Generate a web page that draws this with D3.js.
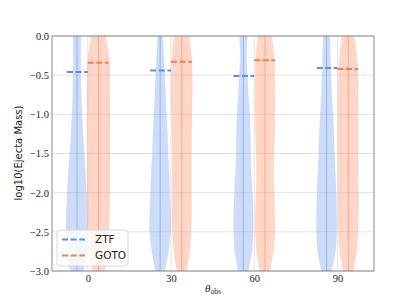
<html>
<meta charset="utf-8" />
<head>
<title>violin ejecta mass</title>
<script src="https://cdn.jsdelivr.net/npm/d3@7"></script>
<style>
	body { margin: 0; background: white; }
</style>
<script>
// viewing angles (x categories)
const angles = [0, 30, 60, 90];
// levels where the violin widths were read (log10 mass)
const levels = [0, -0.25, -0.5, -0.75, -1, -1.25, -1.5, -1.75, -2, -2.25, -2.5, -2.75, -3];
// relative violin half widths, one row per angle
const ztfDensity = [
	[0.34, 0.32, 0.33, 0.37, 0.43, 0.52, 0.63, 0.74, 0.84, 0.91, 0.96, 0.87, 0.57],
	[0.22, 0.30, 0.39, 0.46, 0.54, 0.63, 0.68, 0.77, 0.83, 0.90, 0.90, 0.72, 0.39],
	[0.35, 0.26, 0.35, 0.43, 0.55, 0.61, 0.63, 0.68, 0.78, 0.84, 0.84, 0.74, 0.43],
	[0.29, 0.33, 0.39, 0.45, 0.54, 0.63, 0.68, 0.76, 0.83, 0.87, 0.87, 0.77, 0.43]
];
const gotoDensity = [
	[0.60, 0.90, 0.98, 0.98, 0.98, 0.98, 0.98, 0.98, 0.98, 0.94, 0.87, 0.72, 0.54],
	[0.65, 0.84, 0.91, 0.91, 0.89, 0.85, 0.83, 0.83, 0.83, 0.84, 0.81, 0.68, 0.43],
	[0.59, 0.78, 0.85, 0.85, 0.85, 0.83, 0.77, 0.74, 0.78, 0.85, 0.85, 0.72, 0.43],
	[0.50, 0.74, 0.84, 0.87, 0.87, 0.87, 0.87, 0.85, 0.89, 0.89, 0.85, 0.72, 0.43]
];
// mean of each group (dashed lines)
const ztfMean = [-0.46, -0.44, -0.51, -0.41];
const gotoMean = [-0.34, -0.33, -0.31, -0.42];
const yTicks = [0, -0.5, -1, -1.5, -2, -2.5, -3];
const seriesNames = ['ZTF', 'GOTO'];

window.onload = function() {
	let svg = d3.select('svg');

	let xScale = d3.scaleLinear().domain([-0.43, 3.44]).range([52, 374]);
	let yScale = d3.scaleLinear().domain([-3, 0]).range([271, 36]);
	// density -> pixel half width
	let wScale = d3.scaleLinear().domain([0, 1]).range([0, 11.5]);

	const colors = ['#6495ed', '#ff7f50'];
	const dashColors = ['#5a8ee8', '#ff7a48'];
	const offsets = [-0.13, 0.13];

	// grid
	svg.append('g').selectAll('line.hgrid')
	.data(yTicks).enter()
	.append('line')
	.attr('x1', 52).attr('x2', 374)
	.attr('y1', (d) => yScale(d)).attr('y2', (d) => yScale(d))
	.style('stroke', '#e3e3e3').style('stroke-width', '1px');

	svg.append('g').selectAll('line.vgrid')
	.data(angles).enter()
	.append('line')
	.attr('x1', (d, i) => xScale(i)).attr('x2', (d, i) => xScale(i))
	.attr('y1', 36).attr('y2', 271)
	.style('stroke', '#e3e3e3').style('stroke-width', '1px');

	// violins
	[ztfDensity, gotoDensity].forEach(function(dens, s) {
		dens.forEach(function(row, i) {
			let cx = xScale(i + offsets[s]);
			let pts = row.map((v, k) => ({ y: levels[k], w: v }));
			let area = d3.area()
			.y((d) => yScale(d.y))
			.x0((d) => cx - wScale(d.w))
			.x1((d) => cx + wScale(d.w))
			.curve(d3.curveCatmullRom);

			svg.append('path')
			.attr('d', area(pts))
			.style('fill', colors[s])
			.style('fill-opacity', 0.32)
			.style('stroke', colors[s])
			.style('stroke-opacity', 0.15)
			.style('stroke-width', '0.5px');

			svg.append('line')
			.attr('x1', cx).attr('x2', cx)
			.attr('y1', yScale(0)).attr('y2', yScale(-3))
			.style('stroke', colors[s])
			.style('stroke-opacity', 0.55)
			.style('stroke-width', '1px');
		});
	});

	// mean lines
	[ztfMean, gotoMean].forEach(function(means, s) {
		svg.append('g').selectAll('line')
		.data(means).enter()
		.append('line')
		.attr('x1', (d, i) => s == 0 ? xScale(i - 0.25) : xScale(i))
		.attr('x2', (d, i) => s == 0 ? xScale(i) : xScale(i + 0.25))
		.attr('y1', (d) => yScale(d)).attr('y2', (d) => yScale(d))
		.style('stroke', dashColors[s])
		.style('stroke-width', '2px')
		.style('stroke-dasharray', '6,2.6');
	});

	// frame
	svg.append('rect')
	.attr('x', 52).attr('y', 36)
	.attr('width', 322).attr('height', 235)
	.style('fill', 'none')
	.style('stroke', '#8a8a8a')
	.style('stroke-width', '1px');

	// axes
	let yAxis = d3.axisLeft(yScale).tickValues(yTicks).tickSize(0).tickPadding(3)
	.tickFormat((d) => d3.format('.1f')(d).replace('-', '\u2212'));
	let gy = svg.append('g').attr('transform', 'translate(52, 0)').call(yAxis);
	gy.select('path.domain').remove();
	gy.selectAll('text')
	.style('font-family', '"Liberation Serif", serif')
	.style('font-size', '10.5px')
	.style('fill', '#222');

	let xAxis = d3.axisBottom(xScale).tickValues([0, 1, 2, 3]).tickSize(0).tickPadding(4)
	.tickFormat((d, i) => angles[i]);
	let gx = svg.append('g').attr('transform', 'translate(0, 271)').call(xAxis);
	gx.select('path.domain').remove();
	gx.selectAll('text')
	.style('font-family', '"Liberation Serif", serif')
	.style('font-size', '10.5px')
	.style('fill', '#222');

	// labels
	svg.append('text')
	.attr('transform', 'translate(22, 153) rotate(-90)')
	.attr('text-anchor', 'middle')
	.style('font-family', '"DejaVu Sans", sans-serif')
	.style('font-size', '10px')
	.style('fill', '#222')
	.text('log10(Ejecta Mass)');

	let xl = svg.append('text')
	.attr('x', 213).attr('y', 292)
	.attr('text-anchor', 'middle')
	.style('font-family', '"Liberation Serif", serif')
	.style('fill', '#222');
	xl.append('tspan').style('font-style', 'italic').style('font-size', '11px').text('\u03b8');
	xl.append('tspan').attr('dy', 2).style('font-size', '7.5px').text('obs');

	// legend
	let lg = svg.append('g').attr('transform', 'translate(57, 230)');
	lg.append('rect')
	.attr('width', 71).attr('height', 36).attr('rx', 3)
	.style('fill', 'white').style('fill-opacity', 0.8)
	.style('stroke', '#d8d8d8').style('stroke-width', '1px');

	lg.selectAll('g.item')
	.data(seriesNames).enter()
	.append('g')
	.attr('transform', (d, i) => 'translate(0, ' + (9.5 + i * 16) + ')')
	.each(function(d, i) {
		d3.select(this).append('line')
		.attr('x1', 5).attr('x2', 28)
		.style('stroke', dashColors[i])
		.style('stroke-width', '2px')
		.style('stroke-dasharray', '6,2.6');
		d3.select(this).append('text')
		.attr('x', 38).attr('y', 3.8)
		.style('font-family', '"DejaVu Sans", sans-serif')
		.style('font-size', '10.5px')
		.style('fill', '#222')
		.text(d);
	});
}
</script>
</head>
<body>
<svg width="415" height="305"></svg>
</body>
</html>
